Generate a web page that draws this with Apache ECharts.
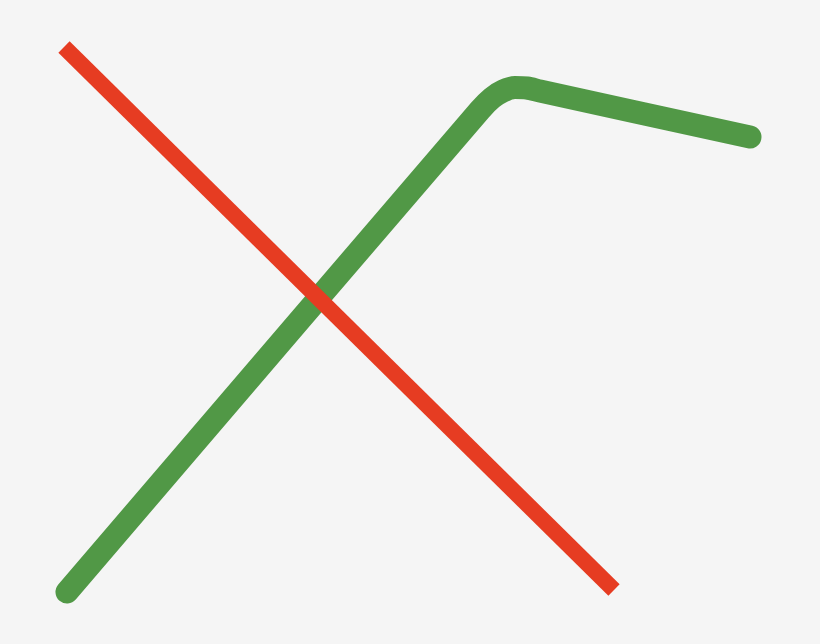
<!DOCTYPE html>
<html>
<head>
<meta charset="utf-8">
<script src="https://cdn.jsdelivr.net/npm/echarts@6/dist/echarts.min.js"></script>
<style>
html,body{margin:0;padding:0;background:#f5f5f5;}
#chart{width:820px;height:644px;}
</style>
</head>
<body>
<div id="chart"></div>
<script>
// Values (x to the right, y downward)
var redX = [64, 614];
var redY = [47, 590];
var greenX = [67, 480, 492, 503, 515, 527, 540, 750];
var greenY = [592, 110, 98, 91, 87.5, 88, 91, 137];

var chart = echarts.init(document.getElementById('chart'), null, {renderer: 'canvas'});
function pairs(xs, ys) { return xs.map(function (x, i) { return [x, ys[i]]; }); }
chart.setOption({
  backgroundColor: '#f5f5f5',
  animation: false,
  grid: {left: 0, right: 0, top: 0, bottom: 0},
  xAxis: {type: 'value', min: 0, max: 820, show: false},
  yAxis: {type: 'value', min: 0, max: 644, inverse: true, show: false},
  series: [
    {
      type: 'line',
      data: pairs(greenX, greenY),
      smooth: 0.3,
      symbol: 'none',
      lineStyle: {color: '#519846', width: 23, cap: 'round', join: 'round'}
    },
    {
      type: 'line',
      data: pairs(redX, redY),
      symbol: 'none',
      lineStyle: {color: '#e63c22', width: 16, cap: 'butt'}
    }
  ]
});
</script>
</body>
</html>
